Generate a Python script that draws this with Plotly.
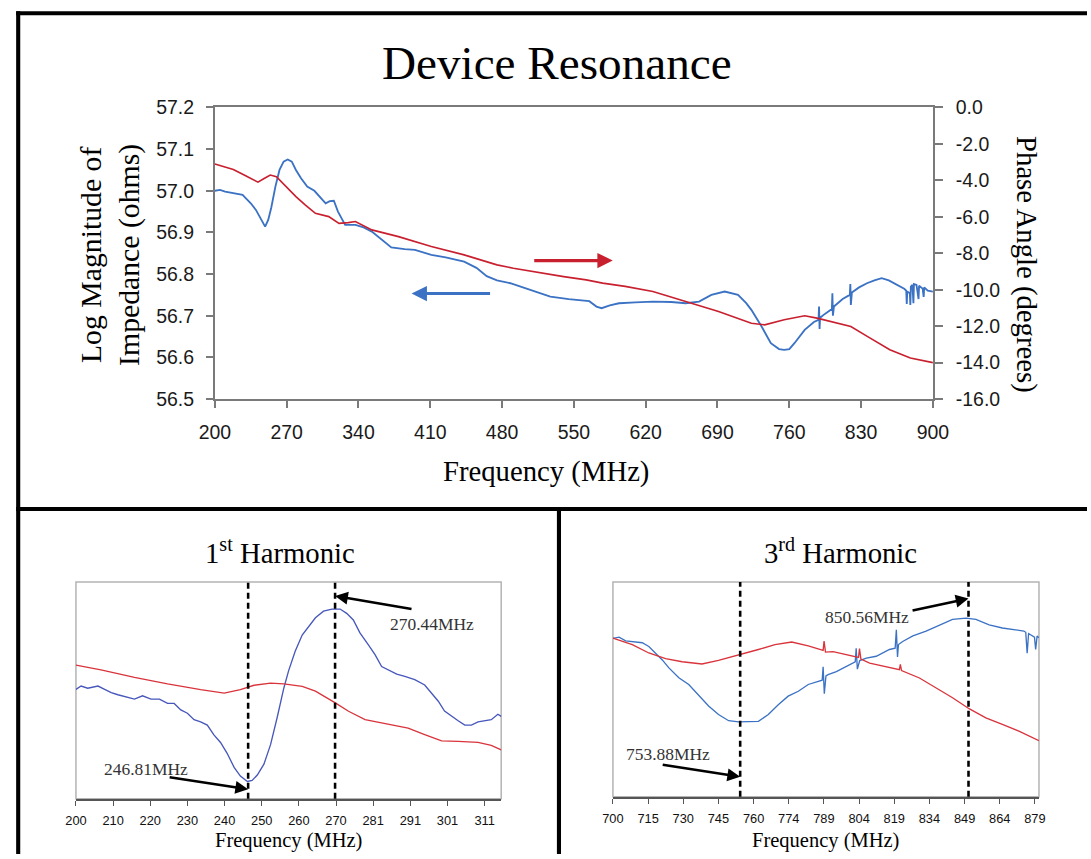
import plotly.graph_objects as go

# ---------------- data ----------------
# main chart: log magnitude of impedance (ohms)
main_freq_mag = [200, 205, 210, 214, 218, 223, 227, 231, 235, 240, 245, 249, 252, 255, 259, 263, 267, 271,
                 275, 279, 284, 290, 297, 303, 308, 312, 316, 320, 323, 327, 337, 345, 353, 362, 372, 385,
                 395, 411, 425, 443, 455, 465, 475, 488, 507, 527, 545, 555, 565, 572, 577, 585, 594, 610,
                 627, 645, 659, 672, 684, 697, 710, 718, 723, 733, 742, 750, 755, 760, 765, 775, 784,
                 788.5, 789, 789.5, 790, 795, 801.5, 802, 802.5, 803.5, 812, 819, 819.5, 820, 821, 828,
                 835.7, 843, 850, 857, 864.7, 872, 874, 874.5, 875, 877.5, 878, 878.5, 880, 881, 881.5,
                 884, 886, 886.5, 890, 891, 891.5, 895, 900]
main_mag = [57.000, 57.002, 56.998, 56.996, 56.994, 56.993, 56.990, 56.980, 56.970, 56.954, 56.930, 56.914,
            56.930, 56.960, 57.010, 57.050, 57.070, 57.075, 57.070, 57.050, 57.030, 57.010, 57.000, 56.985,
            56.970, 56.975, 56.976, 56.950, 56.935, 56.918, 56.918, 56.912, 56.902, 56.885, 56.864, 56.860,
            56.858, 56.846, 56.840, 56.830, 56.815, 56.795, 56.785, 56.778, 56.762, 56.746, 56.740, 56.738,
            56.735, 56.722, 56.718, 56.725, 56.730, 56.732, 56.734, 56.733, 56.730, 56.734, 56.750, 56.758,
            56.750, 56.730, 56.714, 56.674, 56.634, 56.620, 56.618, 56.620, 56.634, 56.666, 56.685,
            56.690, 56.722, 56.668, 56.695, 56.705, 56.716, 56.754, 56.700, 56.722, 56.740, 56.750, 56.776,
            56.726, 56.756, 56.768, 56.778, 56.785, 56.790, 56.785, 56.774, 56.765, 56.760, 56.728, 56.758,
            56.754, 56.726, 56.770, 56.774, 56.730, 56.776, 56.774, 56.740, 56.772, 56.765, 56.745, 56.768,
            56.760, 56.758]

# main chart: phase angle (degrees)
main_freq_phase = [200, 210, 218, 230, 242, 248, 254, 260, 266, 272, 279, 288, 298, 311, 321, 330, 337, 353,
                   379, 411, 443, 475, 491, 540, 562, 578, 600, 627, 659, 691, 723, 736, 755, 775, 787, 807,
                   820, 836, 858, 878, 900]
main_phase = [-3.10, -3.28, -3.40, -3.75, -4.10, -3.90, -3.71, -3.80, -4.15, -4.50, -4.89, -5.35, -5.81, -5.99,
              -6.36, -6.32, -6.26, -6.72, -7.09, -7.63, -8.09, -8.64, -8.82, -9.28, -9.46, -9.64, -9.82, -10.10,
              -10.65, -11.20, -11.84, -11.93, -11.65, -11.43, -11.56, -11.84, -12.02, -12.56, -13.30, -13.75,
              -14.00]

main_x_ticks = [200, 270, 340, 410, 480, 550, 620, 690, 760, 830, 900]
mag_ticks = [56.5, 56.6, 56.7, 56.8, 56.9, 57.0, 57.1, 57.2]
mag_tick_labels = ["56.5", "56.6", "56.7", "56.8", "56.9", "57.0", "57.1", "57.2"]
phase_ticks = [0, -2, -4, -6, -8, -10, -12, -14, -16]
phase_tick_labels = ["0.0", "-2.0", "-4.0", "-6.0", "-8.0", "-10.0", "-12.0", "-14.0", "-16.0"]

# 1st harmonic
h1_freq_mag = [200, 201.4, 203.2, 206, 207.8, 209.6, 211.4, 213.6, 215.9, 218.1, 220.4, 222.7, 224.9, 226.7,
               228.5, 230.3, 232.1, 233.9, 235.7, 237.5, 239.3, 241.1, 243, 244.7, 246.6, 247.9, 249.3, 251.1,
               252.9, 254.7, 256.5, 257.8, 259.6, 261.5, 263.3, 265.1, 267.3, 269.6, 271.8, 273.6, 275.4,
               277.2, 279.5, 281.3, 283.1, 284.9, 287.2, 289.4, 292.1, 294.8, 296.6, 298.5, 300.2, 302.1,
               303.9, 305.7, 307.5, 309.3, 311.1, 312.9, 314.7, 315.6]
h1_mag = [57.001, 57.004, 57.002, 57.004, 57.001, 56.998, 56.996, 56.994, 56.992, 56.995, 56.992, 56.992,
          56.988, 56.988, 56.982, 56.979, 56.973, 56.971, 56.968, 56.959, 56.952, 56.942, 56.929, 56.921,
          56.916, 56.917, 56.922, 56.932, 56.950, 56.975, 57.002, 57.018, 57.036, 57.051, 57.059, 57.067,
          57.073, 57.075, 57.075, 57.071, 57.065, 57.053, 57.042, 57.033, 57.022, 57.019, 57.015, 57.013,
          57.010, 57.005, 56.998, 56.990, 56.981, 56.976, 56.972, 56.968, 56.968, 56.971, 56.972, 56.973,
          56.978, 56.976]
h1_freq_phase = [200, 206.8, 215.9, 224.9, 233.9, 240.3, 244.7, 248.4, 252.9, 256.5, 261.5, 265.1, 270.5,
                 274.1, 278.6, 283.1, 290.3, 294.8, 299.4, 303.9, 309.3, 312.9, 315.6]
h1_phase = [-3.07, -3.24, -3.52, -3.76, -3.97, -4.10, -3.97, -3.81, -3.73, -3.76, -3.85, -4.03, -4.46, -4.77,
            -5.08, -5.20, -5.39, -5.63, -5.86, -5.88, -5.92, -6.03, -6.19]
h1_tick_vals = [200, 210.1, 220.2, 230.3, 240.4, 250.5, 260.6, 270.7, 280.8, 290.9, 301.0, 311.1]
h1_tick_labels = ["200", "210", "220", "230", "240", "250", "260", "270", "281", "291", "301", "311"]
h1_res = [246.81, 270.44]
h1_res_labels = ["246.81MHz", "270.44MHz"]

# 3rd harmonic
h3_freq_mag = [700, 702.6, 705.4, 708.2, 712.4, 715.2, 718, 720.9, 723.7, 727.9, 732.1, 736.3, 740.5, 744.7,
               749, 753.2, 757.4, 761.6, 765.8, 770, 774.2, 778.5, 782.7, 786.9,
               788.6, 789, 789.5, 790.2, 791.1, 794.6, 798.9, 801.6,
               802.6, 803, 803.5, 804.5, 807.3, 811.5, 814.3, 817.1,
               819.5, 820, 820.5, 820.9, 822.7, 827, 832.6, 838.2, 843.8, 849.5, 853.7, 859.3, 864.9, 870.5,
               874, 874.8, 875.4, 876, 876.9, 878.5, 879, 879.6, 880.4]
h3_mag = [56.758, 56.760, 56.754, 56.753, 56.751, 56.745, 56.734, 56.723, 56.710, 56.694, 56.683, 56.666,
          56.648, 56.634, 56.624, 56.622, 56.622, 56.623, 56.634, 56.650, 56.664, 56.672, 56.683, 56.688,
          56.690, 56.712, 56.668, 56.697, 56.699, 56.704, 56.713, 56.718,
          56.720, 56.742, 56.708, 56.722, 56.726, 56.729, 56.734, 56.740,
          56.742, 56.772, 56.728, 56.748, 56.753, 56.762, 56.770, 56.780, 56.789, 56.791, 56.789, 56.780,
          56.775, 56.772, 56.770, 56.768, 56.734, 56.766, 56.764, 56.760, 56.740, 56.762, 56.759]
h3_freq_phase = [700, 708.2, 715.2, 722.3, 729.3, 737.7, 744.7, 753.9, 761.6, 768.6, 775.7, 782.7, 787.6, 789,
                 789.4, 790, 793.2, 801.6, 804, 804.4, 805, 808.7, 815.7, 821.3, 821.7, 822.2, 829.8, 836.8,
                 843.8, 850.8, 857.9, 864.9, 871.9, 880.4]
h3_phase = [-11.38, -11.53, -11.72, -11.85, -11.92, -11.97, -11.89, -11.76, -11.64, -11.53, -11.47, -11.56,
            -11.64, -11.66, -11.45, -11.70, -11.69, -11.79, -11.82, -11.62, -11.86, -11.95, -12.04, -12.10,
            -11.98, -12.12, -12.29, -12.51, -12.74, -12.99, -13.20, -13.35, -13.50, -13.72]
h3_tick_vals = [700, 714.89, 729.78, 744.67, 759.56, 774.45, 789.34, 804.23, 819.12, 834.01, 848.9, 863.79, 878.68]
h3_tick_labels = ["700", "715", "730", "745", "760", "774", "789", "804", "819", "834", "849", "864", "879"]
h3_res = [753.88, 850.56]
h3_res_labels = ["753.88MHz", "850.56MHz"]

# ---------------- geometry ----------------
# Positions below are given in picture pixels (1091x859). The photographed area maps
# page pixels to picture pixels with factor S, and the page body keeps an 8px margin.
S = 0.975
BODY_MARGIN = 8
PAGE_W, PAGE_H = round(1091 / S), round(859 / S)
W, H = PAGE_W - 2 * BODY_MARGIN, PAGE_H - 2 * BODY_MARGIN

def px(x):
    return (x / S - BODY_MARGIN) / W
def py(y):
    return 1 - (y / S - BODY_MARGIN) / H
def sz(v):
    return v / S
def isz(v):
    return int(round(v / S))

SERIF = "Liberation Serif, Times New Roman, serif"
SANS = "Liberation Sans, Arial, sans-serif"
BLUE = "#3b72c4"
RED = "#c8202f"
BLUE1 = "#4757bb"
RED1 = "#d9343c"
AX = "#7a7a7a"
TXT = "#1a1a1a"

fig = go.Figure()
fig.add_trace(go.Scatter(x=main_freq_mag, y=main_mag, xaxis="x", yaxis="y", mode="lines",
                         line=dict(color=BLUE, width=sz(1.8)), hoverinfo="skip"))
fig.add_trace(go.Scatter(x=main_freq_phase, y=main_phase, xaxis="x", yaxis="y2", mode="lines",
                         line=dict(color=RED, width=sz(1.6)), hoverinfo="skip"))
fig.add_trace(go.Scatter(x=h1_freq_phase, y=h1_phase, xaxis="x2", yaxis="y4", mode="lines",
                         line=dict(color=RED1, width=sz(1.3)), hoverinfo="skip"))
fig.add_trace(go.Scatter(x=h1_freq_mag, y=h1_mag, xaxis="x2", yaxis="y3", mode="lines",
                         line=dict(color=BLUE1, width=sz(1.3)), hoverinfo="skip"))
fig.add_trace(go.Scatter(x=h3_freq_phase, y=h3_phase, xaxis="x3", yaxis="y6", mode="lines",
                         line=dict(color=RED1, width=sz(1.3)), hoverinfo="skip"))
fig.add_trace(go.Scatter(x=h3_freq_mag, y=h3_mag, xaxis="x3", yaxis="y5", mode="lines",
                         line=dict(color=BLUE, width=sz(1.3)), hoverinfo="skip"))

main_tickfont = dict(family=SANS, size=sz(19), color=TXT)
panel_tickfont = dict(family=SANS, size=sz(12.5), color="#111")

layout = dict(
    width=W, height=H, margin=dict(l=0, r=0, t=0, b=0),
    paper_bgcolor="white", plot_bgcolor="white", showlegend=False,
    xaxis=dict(domain=[px(207.5), px(928.5)], range=[200, 900], anchor="y",
               tickvals=main_x_ticks, ticks="outside", ticklen=sz(7), tickwidth=1.5, tickcolor=AX,
               showline=True, linecolor=AX, linewidth=1.5, mirror=True, showgrid=False, zeroline=False,
               tickfont=main_tickfont, ticklabelstandoff=isz(8)),
    yaxis=dict(domain=[py(396), py(104.3)], range=[56.5, 57.2], anchor="x",
               tickvals=mag_ticks, ticktext=mag_tick_labels, ticks="outside", ticklen=sz(7), tickwidth=1.5,
               tickcolor=AX, showline=True, linecolor=AX, linewidth=1.5, showgrid=False, zeroline=False,
               tickfont=main_tickfont, ticklabelstandoff=isz(8)),
    yaxis2=dict(overlaying="y", side="right", anchor="x", range=[-16, 0],
                tickvals=phase_ticks, ticktext=phase_tick_labels, ticks="outside", ticklen=sz(8),
                tickwidth=1.5, tickcolor=AX, showline=True, linecolor=AX, linewidth=1.5, showgrid=False,
                zeroline=False, tickfont=main_tickfont, ticklabelstandoff=isz(9)),
    xaxis2=dict(domain=[px(68), px(495)], range=[200, 315.6], anchor="y3",
                tickvals=h1_tick_vals, ticktext=h1_tick_labels, ticks="outside", ticklen=sz(5), tickwidth=1,
                tickcolor="#555", showline=True, linecolor="#555", linewidth=1.5, showgrid=False,
                zeroline=False, tickfont=panel_tickfont, ticklabelstandoff=isz(4)),
    yaxis3=dict(domain=[py(796), py(579)], range=[56.9, 57.1], anchor="x2", visible=False),
    yaxis4=dict(overlaying="y3", range=[-8, 0], anchor="x2", visible=False),
    xaxis3=dict(domain=[px(607.2), px(1035)], range=[700, 880.4], anchor="y5",
                tickvals=h3_tick_vals, ticktext=h3_tick_labels, ticks="outside", ticklen=sz(5), tickwidth=1,
                tickcolor="#555", showline=True, linecolor="#555", linewidth=1.5, showgrid=False,
                zeroline=False, tickfont=panel_tickfont, ticklabelstandoff=isz(4)),
    yaxis5=dict(domain=[py(794), py(579)], range=[56.5, 56.85], anchor="x3", visible=False),
    yaxis6=dict(overlaying="y5", range=[-15.0, -10.1], anchor="x3", visible=False),
)
fig.update_layout(**layout)

shapes = []
# panel boxes
for xr, yr in [("x2", "y3"), ("x3", "y5")]:
    shapes.append(dict(type="rect", xref=xr + " domain", yref=yr + " domain", x0=0, x1=1, y0=0, y1=1,
                       line=dict(color="#b4b4b4", width=1.5), layer="below"))
# resonance dashed lines
dash = "%dpx,%dpx" % (isz(6), isz(4))
for r in h1_res:
    shapes.append(dict(type="line", xref="x2", yref="y3 domain", x0=r, x1=r, y0=0, y1=1,
                       line=dict(color="black", width=sz(2.5), dash=dash)))
for r in h3_res:
    shapes.append(dict(type="line", xref="x3", yref="y5 domain", x0=r, x1=r, y0=0, y1=1,
                       line=dict(color="black", width=sz(2.5), dash=dash)))
# frame lines
frame = dict(color="black", width=sz(4))
shapes += [
    dict(type="line", xref="paper", yref="paper", x0=px(10), x1=px(10), y0=py(8), y1=0, line=frame),
    dict(type="line", xref="paper", yref="paper", x0=px(8), x1=1, y0=py(10), y1=py(10), line=frame),
    dict(type="line", xref="paper", yref="paper", x0=px(8), x1=1, y0=py(506), y1=py(506), line=frame),
    dict(type="line", xref="paper", yref="paper", x0=px(553), x1=px(553), y0=py(506), y1=0, line=frame),
]
fig.update_layout(shapes=shapes)

ann = []
def text(t, x, y, size, family=SERIF, color="black", angle=0):
    ann.append(dict(text=t, xref="paper", yref="paper", x=px(x), y=py(y), xanchor="center",
                    yanchor="middle", showarrow=False, textangle=angle,
                    font=dict(family=family, size=sz(size), color=color)))

text("Device Resonance", 551, 60, 46)
text("Log Magnitude of<br>Impedance (ohms)", 102, 252, 29, angle=-90)
text("Phase Angle (degrees)", 1023, 261, 28, angle=90)
text("Frequency (MHz)", 540, 469, 28)
text("1<sup>st</sup> Harmonic", 273, 548, 28)
text("3<sup>rd</sup> Harmonic", 836, 548, 28)
text("Frequency (MHz)", 281, 838, 20)
text("Frequency (MHz)", 821, 838, 20)
# resonance labels
text(h1_res_labels[0], 138, 766, 17, color="#333")
text(h1_res_labels[1], 426, 621, 17, color="#333")
text(h3_res_labels[0], 662, 751, 17, color="#333")
text(h3_res_labels[1], 862, 614, 17, color="#333")

def arrow(x, y, ax, ay, color, width, xref="paper"):
    ann.append(dict(text="", xref=xref, yref="paper", x=x, y=y, ax=sz(ax), ay=sz(ay), showarrow=True,
                    arrowhead=2, arrowsize=1.0, arrowwidth=sz(width), arrowcolor=color))

# main chart direction arrows
arrow(px(607), py(257.5), -78, 0, RED, 3)
arrow(px(405), py(290.5), 78, 0, BLUE, 3)
# resonance arrows
arrow(h1_res[0], py(786.5), -78, -12, "black", 2.5, xref="x2")
arrow(h1_res[1], py(593), 76, 13, "black", 2.5, xref="x2")
arrow(h3_res[0], py(774), -77, -12, "black", 2.5, xref="x3")
arrow(h3_res[1], py(595.5), -56, 12, "black", 2.5, xref="x3")

fig.update_layout(annotations=ann)
fig.write_html("out.html")
